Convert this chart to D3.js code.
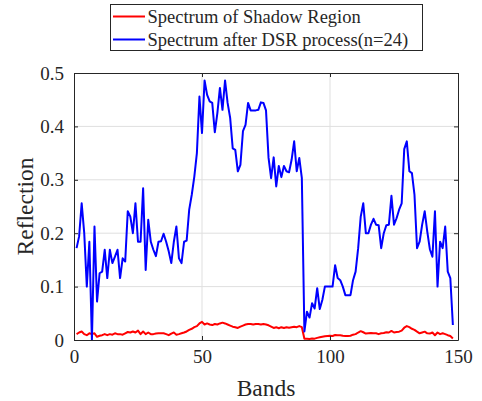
<!DOCTYPE html>
<meta charset="utf-8">
<script src="https://d3js.org/d3.v7.min.js"></script>
<style>
  body { margin: 0; background: #fff; }
  text { font-family: "Liberation Serif", "Times New Roman", serif; fill: #262626; }
</style>
<div id="vis"></div>
<script>

var width = 482,
    height = 401

// band values, bands 1..148
var shadow = [0.011, 0.014, 0.016, 0.011, 0.009, 0.0125, 0.011, 0.0125, 0.006, 0.008,
  0.009, 0.011, 0.009, 0.011, 0.010, 0.0125, 0.011, 0.011, 0.010, 0.0125,
  0.015, 0.014, 0.016, 0.014, 0.0175, 0.011, 0.016, 0.011, 0.014, 0.011,
  0.011, 0.012, 0.0125, 0.0125, 0.0125, 0.011, 0.009, 0.012, 0.014, 0.010,
  0.011, 0.0125, 0.014, 0.016, 0.019, 0.021, 0.024, 0.026, 0.031, 0.034,
  0.029, 0.031, 0.029, 0.028, 0.030, 0.029, 0.031, 0.0325, 0.031, 0.029,
  0.027, 0.025, 0.024, 0.0225, 0.025, 0.027, 0.029, 0.030, 0.030, 0.029,
  0.030, 0.030, 0.029, 0.030, 0.029, 0.0275, 0.025, 0.0225, 0.024, 0.022,
  0.024, 0.0225, 0.024, 0.023, 0.024, 0.025, 0.024, 0.026, 0.024, 0.0025,
  0.0025, 0.002, 0.003, 0.0025, 0.004, 0.005, 0.006, 0.007, 0.0075, 0.008,
  0.0075, 0.0094, 0.009, 0.009, 0.008, 0.0075, 0.0075, 0.008, 0.010, 0.011,
  0.014, 0.0165, 0.0145, 0.012, 0.0125, 0.013, 0.0125, 0.0125, 0.011, 0.0125,
  0.013, 0.0145, 0.014, 0.017, 0.014, 0.015, 0.0156, 0.0175, 0.023, 0.026,
  0.024, 0.021, 0.019, 0.0156, 0.0125, 0.014, 0.0156, 0.0125, 0.012, 0.014,
  0.009, 0.014, 0.011, 0.0125, 0.011, 0.009, 0.0075, 0.003]

var dsr = [0.172, 0.194, 0.256, 0.2, 0.1, 0.184, 0.0, 0.2125, 0.072, 0.125,
  0.128, 0.169, 0.116, 0.169, 0.144, 0.156, 0.169, 0.116, 0.153, 0.147,
  0.241, 0.231, 0.2, 0.256, 0.184, 0.184, 0.284, 0.131, 0.225, 0.184,
  0.169, 0.157, 0.184, 0.185, 0.199, 0.184, 0.166, 0.144, 0.184, 0.2125,
  0.153, 0.144, 0.184, 0.186, 0.244, 0.272, 0.306, 0.35, 0.456, 0.3875,
  0.486, 0.459, 0.447, 0.444, 0.389, 0.425, 0.472, 0.431, 0.486, 0.444,
  0.416, 0.359, 0.356, 0.316, 0.328, 0.391, 0.403, 0.444, 0.43, 0.43,
  0.43, 0.431, 0.445, 0.444, 0.43, 0.341, 0.303, 0.342, 0.2875, 0.326,
  0.305, 0.326, 0.316, 0.314, 0.3375, 0.372, 0.316, 0.341, 0.303, 0.016,
  0.053, 0.042, 0.069, 0.059, 0.097, 0.058, 0.075, 0.1, 0.1, 0.1,
  0.1, 0.14, 0.116, 0.112, 0.1, 0.084, 0.084, 0.084, 0.112, 0.128,
  0.172, 0.231, 0.256, 0.2, 0.2, 0.216, 0.227, 0.216, 0.215, 0.172,
  0.2, 0.215, 0.216, 0.27, 0.216, 0.228, 0.244, 0.256, 0.3575, 0.372,
  0.316, 0.3125, 0.272, 0.172, 0.184, 0.216, 0.241, 0.203, 0.17, 0.156,
  0.241, 0.1, 0.184, 0.172, 0.2125, 0.128, 0.116, 0.028]

var xTicks = [0, 50, 100, 150]
var yTicks = [0, 0.1, 0.2, 0.3, 0.4, 0.5]
var seriesNames = ["Spectrum of Shadow Region", "Spectrum after DSR process(n=24)"]
var seriesColors = ["#ff0000", "#0000ff"]

// plot box (window.top is reserved, so plotTop etc.)
var plotLeft = 74, plotRight = 458, plotTop = 73, plotBottom = 340

var svg = d3.select("#vis")
  .append("svg")
    .attr("width", width)
    .attr("height", height)

var x = d3.scaleLinear().domain([0, 150]).range([plotLeft, plotRight])
var y = d3.scaleLinear().domain([0, 0.5]).range([plotBottom, plotTop])

// grid
svg.append("g").selectAll("line")
  .data(xTicks.slice(1, -1))
  .enter().append("line")
    .attr("x1", d => x(d)).attr("x2", d => x(d))
    .attr("y1", plotTop).attr("y2", plotBottom)
    .attr("stroke", "#dfdfdf").attr("stroke-width", 1)

svg.append("g").selectAll("line")
  .data(yTicks.slice(1, -1))
  .enter().append("line")
    .attr("x1", plotLeft).attr("x2", plotRight)
    .attr("y1", d => y(d)).attr("y2", d => y(d))
    .attr("stroke", "#dfdfdf").attr("stroke-width", 1)

// lines
var line = d3.line()
  .x((d, i) => x(i + 1))
  .y(d => y(d))

;[shadow, dsr].forEach(function(data, k) {
  svg.append("path")
    .datum(data)
    .attr("fill", "none")
    .attr("stroke", seriesColors[k])
    .attr("stroke-width", 2)
    .attr("stroke-linejoin", "round")
    .attr("d", line)
})

// axes (ticks pointing inward, box on all sides)
function styleAxis(g) {
  g.select(".domain").attr("stroke", "#262626").attr("stroke-width", 1)
  g.selectAll(".tick line").attr("stroke", "#262626")
  g.selectAll("text").attr("font-size", 19).attr("font-family", "Liberation Serif, serif").attr("fill", "#262626")
}

svg.append("g")
  .attr("transform", "translate(0," + plotBottom + ")")
  .call(d3.axisBottom(x).tickValues(xTicks).tickSizeInner(-4).tickSizeOuter(0).tickPadding(10))
  .call(styleAxis)

svg.append("g")
  .attr("transform", "translate(0," + plotTop + ")")
  .call(d3.axisTop(x).tickValues(xTicks).tickSizeInner(-4).tickSizeOuter(0).tickFormat(""))
  .call(styleAxis)

svg.append("g")
  .attr("transform", "translate(" + plotLeft + ",0)")
  .call(d3.axisLeft(y).tickValues(yTicks).tickSizeInner(-4).tickSizeOuter(0).tickPadding(10).tickFormat(d3.format("")))
  .call(styleAxis)

svg.append("g")
  .attr("transform", "translate(" + plotRight + ",0)")
  .call(d3.axisRight(y).tickValues(yTicks).tickSizeInner(-4).tickSizeOuter(0).tickFormat(""))
  .call(styleAxis)

// axis labels
svg.append("text")
  .attr("x", (plotLeft + plotRight) / 2)
  .attr("y", 396)
  .attr("text-anchor", "middle")
  .attr("font-size", 23.5)
  .text("Bands")

svg.append("text")
  .attr("transform", "translate(33," + (plotTop + plotBottom) / 2 + ") rotate(-90)")
  .attr("text-anchor", "middle")
  .attr("font-size", 23.5)
  .text("Reflection")

// legend
var legend = svg.append("g")

legend.append("rect")
  .attr("x", 110.5).attr("y", 4.5)
  .attr("width", 312).attr("height", 46)
  .attr("fill", "#fff")
  .attr("stroke", "#262626")

seriesNames.forEach(function(name, i) {
  var cy = 16.5 + i * 23
  legend.append("line")
    .attr("x1", 113).attr("x2", 145)
    .attr("y1", cy).attr("y2", cy)
    .attr("stroke", seriesColors[i])
    .attr("stroke-width", 2)
  legend.append("text")
    .attr("x", 147.5)
    .attr("y", cy)
    .attr("dy", "0.35em")
    .attr("font-size", 18.5)
    .text(name)
})

</script>
